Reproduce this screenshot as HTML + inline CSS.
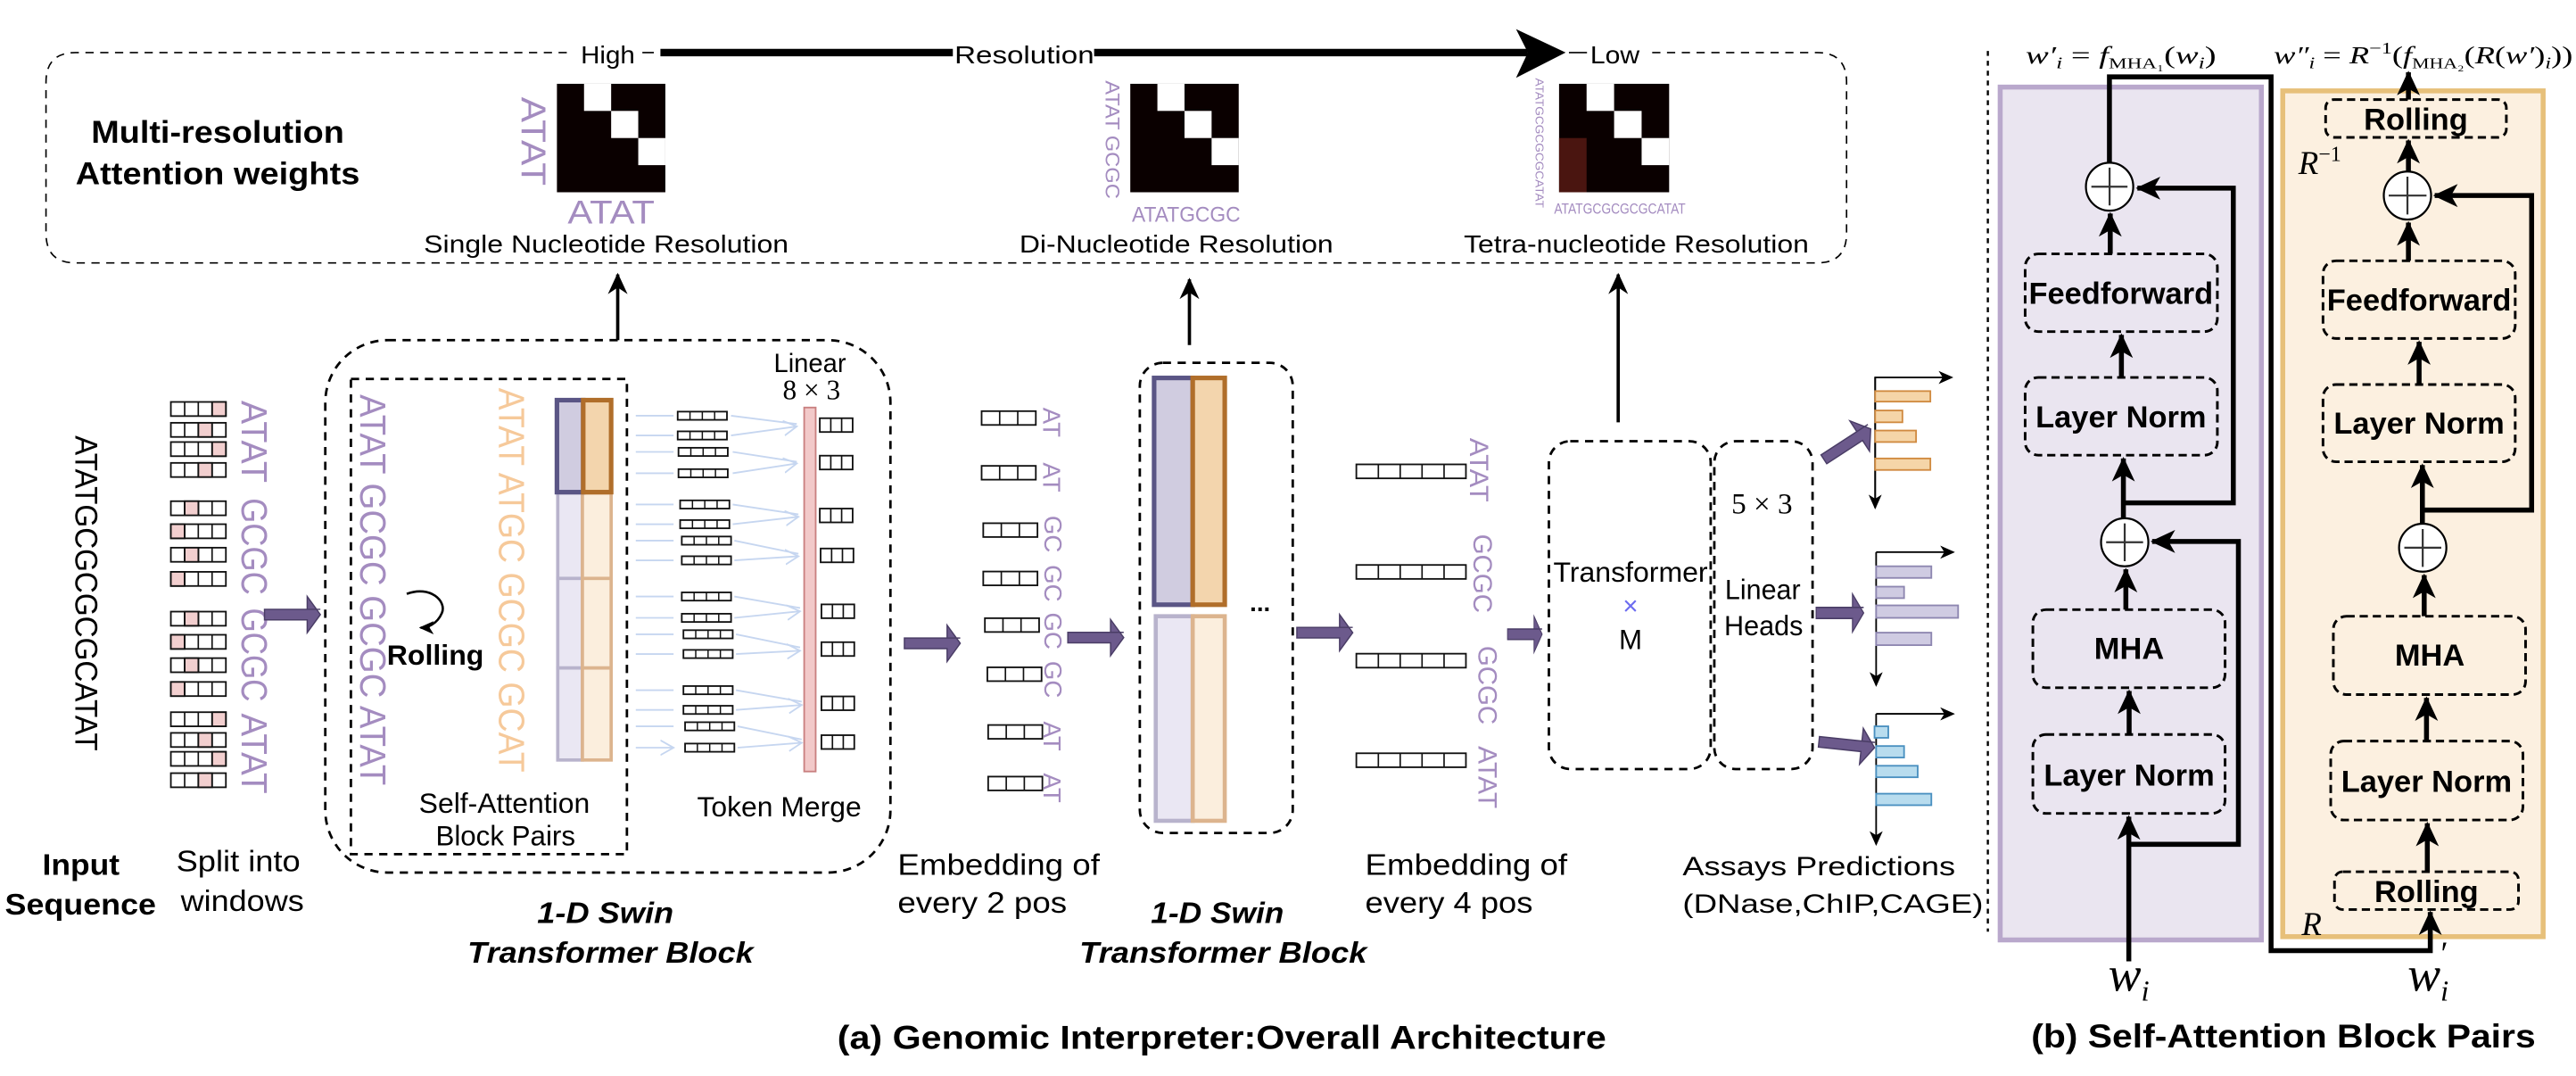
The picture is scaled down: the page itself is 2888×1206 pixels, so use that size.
<!DOCTYPE html>
<html><head><meta charset="utf-8"><style>
html,body{margin:0;padding:0;background:#fff}
svg{display:block}
.c{font-family:"Liberation Sans Narrow","Liberation Sans",sans-serif}
.s{font-family:"Liberation Sans",sans-serif}
.m{font-family:"Liberation Serif",serif}
.bb{font-family:"Liberation Sans",sans-serif;font-weight:bold;font-size:18.7px}
.pu{fill:#a48cc0}
.or{fill:#f6c99a}
</style></head><body>
<svg width="2888" height="1206" viewBox="0 0 1568 654.8" preserveAspectRatio="none" xmlns="http://www.w3.org/2000/svg">
<defs>
<marker id="ah" markerUnits="userSpaceOnUse" markerWidth="14" markerHeight="14" refX="12" refY="7" orient="auto"><path d="M0,1 L13,7 L0,13 L4,7 z" fill="#000"/></marker>
<marker id="ab" markerUnits="userSpaceOnUse" markerWidth="16" markerHeight="16" refX="14" refY="8" orient="auto"><path d="M0,1 L15,8 L0,15 L4,8 z" fill="#000"/></marker>
<marker id="as" markerUnits="userSpaceOnUse" markerWidth="10" markerHeight="10" refX="8" refY="5" orient="auto"><path d="M0,1 L9,5 L0,9 L2.5,5 z" fill="#000"/></marker>
<marker id="lb" markerUnits="userSpaceOnUse" markerWidth="10" markerHeight="10" refX="8" refY="5" orient="auto"><path d="M0,0.5 L8,5 L0,9.5" fill="none" stroke="#c6d6f0" stroke-width="1"/></marker>
<path id="fa" d="M0,-3.2 L-8,-3.2 L-8,-11 L0,0 L-8,11 L-8,3.2 L-34,3.2 L-34,-3.2 z"/>
</defs>

<!-- ===== Top multi-resolution box ===== -->
<path d="M345,32 H46 Q28,32 28,50 V142 Q28,160 46,160 H1106 Q1124,160 1124,142 V50 Q1124,32 1106,32 H1003" fill="none" stroke="#000" stroke-width="0.9" stroke-dasharray="5,4"/>
<path d="M391,32 H398" stroke="#000" stroke-width="0.9"/>
<text x="370" y="38.5" class="c" font-size="15" text-anchor="middle" textLength="33" lengthAdjust="spacingAndGlyphs">High</text>
<line x1="402" y1="32" x2="580" y2="32" stroke="#000" stroke-width="4.5"/>
<line x1="666" y1="32" x2="930" y2="32" stroke="#000" stroke-width="4.5"/>
<path d="M922.8,17.7 L953,32 L922.8,47.4 L930,32 z" fill="#000"/>
<text x="581" y="38.5" class="c" font-size="15" textLength="85" lengthAdjust="spacingAndGlyphs">Resolution</text>
<line x1="955" y1="32" x2="966" y2="32" stroke="#000" stroke-width="0.9"/>
<text x="968" y="38.5" class="c" font-size="15" textLength="30" lengthAdjust="spacingAndGlyphs">Low</text>

<text x="55.5" y="87" class="c" font-size="19" font-weight="bold" textLength="154" lengthAdjust="spacingAndGlyphs">Multi-resolution</text>
<text x="46" y="112" class="c" font-size="19" font-weight="bold" textLength="173" lengthAdjust="spacingAndGlyphs">Attention weights</text>

<!-- matrices -->
<g>
<rect x="339" y="51" width="66" height="66" fill="#0a0000"/>
<rect x="355.5" y="51" width="16.5" height="16.5" fill="#fff"/>
<rect x="372" y="67.5" width="16.5" height="16.5" fill="#fff"/>
<rect x="388.5" y="84" width="16.5" height="16.5" fill="#fff"/>
<text transform="translate(324,86) rotate(90)" class="s pu" font-size="21" text-anchor="middle" dominant-baseline="central" textLength="54" lengthAdjust="spacingAndGlyphs">ATAT</text>
<text x="372" y="136" class="c pu" font-size="20" text-anchor="middle" textLength="53" lengthAdjust="spacingAndGlyphs">ATAT</text>
<text x="369" y="153.7" class="c" font-size="15" text-anchor="middle" textLength="222" lengthAdjust="spacingAndGlyphs">Single Nucleotide Resolution</text>
</g>
<g>
<rect x="688" y="51" width="66" height="66" fill="#0a0000"/>
<rect x="704.5" y="51" width="16.5" height="16.5" fill="#fff"/>
<rect x="721" y="67.5" width="16.5" height="16.5" fill="#fff"/>
<rect x="737.5" y="84" width="16.5" height="16.5" fill="#fff"/>
<text transform="translate(677,85) rotate(90)" class="s pu" font-size="12" text-anchor="middle" dominant-baseline="central" textLength="72" lengthAdjust="spacingAndGlyphs">ATAT GCGC</text>
<text x="722" y="135" class="c pu" font-size="13" text-anchor="middle" textLength="66" lengthAdjust="spacingAndGlyphs">ATATGCGC</text>
<text x="716" y="153.7" class="c" font-size="15" text-anchor="middle" textLength="191" lengthAdjust="spacingAndGlyphs">Di-Nucleotide Resolution</text>
</g>
<g>
<rect x="949" y="51" width="67" height="66" fill="#0a0000"/>
<rect x="949" y="84" width="16.75" height="33" fill="#4a1510"/>
<rect x="965.75" y="51" width="16.75" height="16.5" fill="#fff"/>
<rect x="982.5" y="67.5" width="16.75" height="16.5" fill="#fff"/>
<rect x="999.25" y="84" width="16.75" height="16.5" fill="#fff"/>
<text transform="translate(937,87) rotate(90)" class="s pu" font-size="7" text-anchor="middle" dominant-baseline="central" textLength="79" lengthAdjust="spacingAndGlyphs">ATATGCGCGCGCATAT</text>
<text x="986" y="130" class="c pu" font-size="9" text-anchor="middle" textLength="80" lengthAdjust="spacingAndGlyphs">ATATGCGCGCGCATAT</text>
<text x="891" y="153.7" class="c" font-size="15" textLength="210" lengthAdjust="spacingAndGlyphs">Tetra-nucleotide Resolution</text>
</g>

<!-- up arrows -->
<line x1="376" y1="207" x2="376" y2="167" stroke="#000" stroke-width="2" marker-end="url(#ah)"/>
<line x1="724" y1="210" x2="724" y2="170" stroke="#000" stroke-width="2" marker-end="url(#ah)"/>
<line x1="985" y1="257" x2="985" y2="167" stroke="#000" stroke-width="2" marker-end="url(#ah)"/>

<!-- ===== Input ===== -->
<text transform="translate(52,361) rotate(90)" class="s" font-size="19" text-anchor="middle" dominant-baseline="central" textLength="192" lengthAdjust="spacingAndGlyphs">ATATGCGCGCGCATAT</text>

<g id="win" stroke="#000" stroke-width="1" fill="#fff">
<!-- rows generated manually -->
</g>
<g stroke="#111" stroke-width="1">
<!-- group1 -->
<rect x="104" y="244.6" width="33.5" height="8.6" fill="#fff"/><rect x="129.1" y="244.6" width="8.4" height="8.6" fill="#f2cfcf"/>
<rect x="104" y="257.3" width="33.5" height="8.6" fill="#fff"/><rect x="120.7" y="257.3" width="8.4" height="8.6" fill="#f2cfcf"/>
<rect x="104" y="269" width="33.5" height="8.6" fill="#fff"/><rect x="129.1" y="269" width="8.4" height="8.6" fill="#f2cfcf"/>
<rect x="104" y="281.7" width="33.5" height="8.6" fill="#fff"/><rect x="120.7" y="281.7" width="8.4" height="8.6" fill="#f2cfcf"/>
<!-- group2 -->
<rect x="104" y="305" width="33.5" height="8.6" fill="#fff"/><rect x="112.4" y="305" width="8.4" height="8.6" fill="#f2cfcf"/>
<rect x="104" y="319" width="33.5" height="8.6" fill="#fff"/><rect x="104" y="319" width="8.4" height="8.6" fill="#f2cfcf"/>
<rect x="104" y="333.3" width="33.5" height="8.6" fill="#fff"/><rect x="112.4" y="333.3" width="8.4" height="8.6" fill="#f2cfcf"/>
<rect x="104" y="348" width="33.5" height="8.6" fill="#fff"/><rect x="104" y="348" width="8.4" height="8.6" fill="#f2cfcf"/>
<!-- group3 -->
<rect x="104" y="372.2" width="33.5" height="8.6" fill="#fff"/><rect x="112.4" y="372.2" width="8.4" height="8.6" fill="#f2cfcf"/>
<rect x="104" y="386.3" width="33.5" height="8.6" fill="#fff"/><rect x="104" y="386.3" width="8.4" height="8.6" fill="#f2cfcf"/>
<rect x="104" y="400.5" width="33.5" height="8.6" fill="#fff"/><rect x="112.4" y="400.5" width="8.4" height="8.6" fill="#f2cfcf"/>
<rect x="104" y="415" width="33.5" height="8.6" fill="#fff"/><rect x="104" y="415" width="8.4" height="8.6" fill="#f2cfcf"/>
<!-- group4 -->
<rect x="104" y="433.4" width="33.5" height="8.6" fill="#fff"/><rect x="129.1" y="433.4" width="8.4" height="8.6" fill="#f2cfcf"/>
<rect x="104" y="446" width="33.5" height="8.6" fill="#fff"/><rect x="120.7" y="446" width="8.4" height="8.6" fill="#f2cfcf"/>
<rect x="104" y="457.5" width="33.5" height="8.6" fill="#fff"/><rect x="129.1" y="457.5" width="8.4" height="8.6" fill="#f2cfcf"/>
<rect x="104" y="470.5" width="33.5" height="8.6" fill="#fff"/><rect x="120.7" y="470.5" width="8.4" height="8.6" fill="#f2cfcf"/>
</g>
<!-- cell dividers for windows -->
<g stroke="#111" stroke-width="0.9">
<path d="M112.4,244.6v8.6M120.7,244.6v8.6M129.1,244.6v8.6 M112.4,257.3v8.6M120.7,257.3v8.6M129.1,257.3v8.6 M112.4,269v8.6M120.7,269v8.6M129.1,269v8.6 M112.4,281.7v8.6M120.7,281.7v8.6M129.1,281.7v8.6
M112.4,305v8.6M120.7,305v8.6M129.1,305v8.6 M112.4,319v8.6M120.7,319v8.6M129.1,319v8.6 M112.4,333.3v8.6M120.7,333.3v8.6M129.1,333.3v8.6 M112.4,348v8.6M120.7,348v8.6M129.1,348v8.6
M112.4,372.2v8.6M120.7,372.2v8.6M129.1,372.2v8.6 M112.4,386.3v8.6M120.7,386.3v8.6M129.1,386.3v8.6 M112.4,400.5v8.6M120.7,400.5v8.6M129.1,400.5v8.6 M112.4,415v8.6M120.7,415v8.6M129.1,415v8.6
M112.4,433.4v8.6M120.7,433.4v8.6M129.1,433.4v8.6 M112.4,446v8.6M120.7,446v8.6M129.1,446v8.6 M112.4,457.5v8.6M120.7,457.5v8.6M129.1,457.5v8.6 M112.4,470.5v8.6M120.7,470.5v8.6M129.1,470.5v8.6"/>
</g>
<g class="s pu" font-size="22" text-anchor="middle" dominant-baseline="central">
<text transform="translate(154.7,268.7) rotate(90)" textLength="50" lengthAdjust="spacingAndGlyphs">ATAT</text>
<text transform="translate(154.7,332.5) rotate(90)" textLength="59" lengthAdjust="spacingAndGlyphs">GCGC</text>
<text transform="translate(154.7,398.5) rotate(90)" textLength="57" lengthAdjust="spacingAndGlyphs">GCGC</text>
<text transform="translate(154.7,458.5) rotate(90)" textLength="49" lengthAdjust="spacingAndGlyphs">ATAT</text>
</g>

<!-- fat purple arrows -->
<g fill="#6c5a8c" stroke="#4a3d66" stroke-width="0.8">
<use href="#fa" transform="translate(195,374)"/>
<use href="#fa" transform="translate(584.5,391.5)"/>
<use href="#fa" transform="translate(684,388)"/>
<use href="#fa" transform="translate(823.4,385)"/>
<use href="#fa" transform="translate(938.7,386) scale(0.62,1)"/>
<use href="#fa" transform="translate(1138.7,261) rotate(-33)"/>
<use href="#fa" transform="translate(1134.4,373) scale(0.85,1.05)"/>
<use href="#fa" transform="translate(1141,455) rotate(6)"/>
</g>

<!-- ===== Swin block 1 ===== -->
<rect x="198" y="207" width="344" height="324" rx="38" ry="38" fill="none" stroke="#000" stroke-width="1.5" stroke-dasharray="5,4"/>
<rect x="213.6" y="230.6" width="168" height="289.2" fill="none" stroke="#000" stroke-width="1.5" stroke-dasharray="5,4"/>
<text transform="translate(227,359) rotate(90)" class="s pu" font-size="22" text-anchor="middle" dominant-baseline="central" textLength="238" lengthAdjust="spacingAndGlyphs">ATAT GCGC GCGC ATAT</text>
<text transform="translate(311.5,353) rotate(90)" class="s or" font-size="22" text-anchor="middle" dominant-baseline="central" textLength="234" lengthAdjust="spacingAndGlyphs">ATAT ATGC GCGC GCAT</text>
<path d="M247.6,361.4 C262,356 272,366 269,373 C266,380 260,382 256,382" fill="none" stroke="#000" stroke-width="1.4" marker-end="url(#as)"/>
<text x="235.5" y="404.4" class="c" font-size="17" font-weight="bold" textLength="59" lengthAdjust="spacingAndGlyphs">Rolling</text>
<!-- columns -->
<g>
<rect x="339.5" y="300" width="15" height="52" fill="#eae7f3" stroke="#b8b3cc" stroke-width="2"/>
<rect x="339.5" y="352" width="15" height="54.5" fill="#eae7f3" stroke="#b8b3cc" stroke-width="2"/>
<rect x="339.5" y="406.5" width="15" height="56" fill="#eae7f3" stroke="#b8b3cc" stroke-width="2"/>
<rect x="354.5" y="300" width="17.5" height="52" fill="#fbeedd" stroke="#dcb48e" stroke-width="2"/>
<rect x="354.5" y="352" width="17.5" height="54.5" fill="#fbeedd" stroke="#dcb48e" stroke-width="2"/>
<rect x="354.5" y="406.5" width="17.5" height="56" fill="#fbeedd" stroke="#dcb48e" stroke-width="2"/>
<rect x="339" y="243.5" width="16" height="56" fill="#d0cce0" stroke="#5a5585" stroke-width="2.8"/>
<rect x="355" y="243.5" width="17" height="56" fill="#f3d5ad" stroke="#b06e2a" stroke-width="2.8"/>
</g>
<!-- token merge -->
<g stroke="#c6d6f0" stroke-width="1" fill="none" marker-end="url(#lb)">
<path d="M387,253H410M387,265H410M387,275H410M387,288H410M387,307H410M387,319H410M387,329H410M387,341H410M387,363H410M387,376H410M387,386H410M387,398H410M387,420H410M387,432H410M387,442H410M387,455H410"/>
</g>
<g stroke="#c6d6f0" stroke-width="1" fill="none" marker-end="url(#lb)">
<path d="M445,253L485,258M445,265L485,259.5"/>
<path d="M446,275L485,281M446,288L485,282"/>
<path d="M446,307L486,313M446,319L486,314.5"/>
<path d="M447,329L486,337M447,341L486,338.5"/>
<path d="M447,363L487,370M447,376L487,372"/>
<path d="M448,386L487,394M448,398L487,396"/>
<path d="M448,420L488,427M448,432L488,429"/>
<path d="M449,442L488,450M449,455L488,452"/>
</g>
<g fill="#fff" stroke="#111" stroke-width="1">
<rect x="412.5" y="250.5" width="30" height="5"/><rect x="412.5" y="262.5" width="30" height="5"/><rect x="413" y="272.5" width="30" height="5"/><rect x="413" y="285.5" width="30" height="5"/>
<rect x="414" y="304.5" width="30" height="5"/><rect x="414" y="316.5" width="30" height="5"/><rect x="415" y="326.5" width="30" height="5"/><rect x="415" y="338.5" width="30" height="5"/>
<rect x="415" y="360.5" width="30" height="5"/><rect x="415" y="373.5" width="30" height="5"/><rect x="416" y="383.5" width="30" height="5"/><rect x="416" y="395.5" width="30" height="5"/>
<rect x="416" y="417.5" width="30" height="5"/><rect x="416" y="429.5" width="30" height="5"/><rect x="417" y="439.5" width="30" height="5"/><rect x="417" y="452.5" width="30" height="5"/>
</g>
<g stroke="#111" stroke-width="0.8">
<path d="M420,250.5v5M427.5,250.5v5M435,250.5v5 M420,262.5v5M427.5,262.5v5M435,262.5v5 M420.5,272.5v5M428,272.5v5M435.5,272.5v5 M420.5,285.5v5M428,285.5v5M435.5,285.5v5
M421.5,304.5v5M429,304.5v5M436.5,304.5v5 M421.5,316.5v5M429,316.5v5M436.5,316.5v5 M422.5,326.5v5M430,326.5v5M437.5,326.5v5 M422.5,338.5v5M430,338.5v5M437.5,338.5v5
M422.5,360.5v5M430,360.5v5M437.5,360.5v5 M422.5,373.5v5M430,373.5v5M437.5,373.5v5 M423.5,383.5v5M431,383.5v5M438.5,383.5v5 M423.5,395.5v5M431,395.5v5M438.5,395.5v5
M423.5,417.5v5M431,417.5v5M438.5,417.5v5 M423.5,429.5v5M431,429.5v5M438.5,429.5v5 M424.5,439.5v5M432,439.5v5M439.5,439.5v5 M424.5,452.5v5M432,452.5v5M439.5,452.5v5"/>
</g>
<rect x="489.5" y="248" width="7" height="221.5" fill="#f2c9c9" stroke="#c98080" stroke-width="1"/>
<text x="493" y="226.5" class="c" font-size="16" text-anchor="middle" textLength="44" lengthAdjust="spacingAndGlyphs">Linear</text>
<text x="494" y="243" class="m" font-size="17" text-anchor="middle">8 × 3</text>
<g fill="#fff" stroke="#111" stroke-width="1">
<rect x="499" y="254.5" width="20" height="8.4"/><rect x="499" y="277.3" width="20" height="8.4"/><rect x="499" y="309.5" width="20" height="8.4"/><rect x="499.5" y="333.8" width="20" height="8.4"/>
<rect x="500" y="367.8" width="20" height="8.4"/><rect x="500" y="390.8" width="20" height="8.4"/><rect x="500" y="423.8" width="20" height="8.4"/><rect x="500" y="447.4" width="20" height="8.4"/>
</g>
<g stroke="#111" stroke-width="0.9">
<path d="M505.7,254.5v8.4M512.3,254.5v8.4 M505.7,277.3v8.4M512.3,277.3v8.4 M505.7,309.5v8.4M512.3,309.5v8.4 M506.2,333.8v8.4M512.8,333.8v8.4 M506.7,367.8v8.4M513.3,367.8v8.4 M506.7,390.8v8.4M513.3,390.8v8.4 M506.7,423.8v8.4M513.3,423.8v8.4 M506.7,447.4v8.4M513.3,447.4v8.4"/>
</g>
<text x="307" y="494.6" class="c" font-size="17" text-anchor="middle" textLength="104" lengthAdjust="spacingAndGlyphs">Self-Attention</text>
<text x="307.7" y="514.5" class="c" font-size="17" text-anchor="middle" textLength="85" lengthAdjust="spacingAndGlyphs">Block Pairs</text>
<text x="474.3" y="496.7" class="c" font-size="17" text-anchor="middle" textLength="100" lengthAdjust="spacingAndGlyphs">Token Merge</text>

<!-- bottom labels -->
<text x="49.3" y="532.4" class="c" font-size="18" font-weight="bold" text-anchor="middle" textLength="47" lengthAdjust="spacingAndGlyphs">Input</text>
<text x="49" y="556.5" class="c" font-size="18" font-weight="bold" text-anchor="middle" textLength="92" lengthAdjust="spacingAndGlyphs">Sequence</text>
<text x="107.3" y="530.3" class="c" font-size="18" textLength="75.5" lengthAdjust="spacingAndGlyphs">Split into</text>
<text x="110" y="554.4" class="c" font-size="18" textLength="75" lengthAdjust="spacingAndGlyphs">windows</text>
<text x="327" y="561.7" class="c" font-size="18" font-weight="bold" font-style="italic" textLength="83" lengthAdjust="spacingAndGlyphs">1-D Swin</text>
<text x="284.6" y="585.9" class="c" font-size="18" font-weight="bold" font-style="italic" textLength="174" lengthAdjust="spacingAndGlyphs">Transformer Block</text>
<text x="546.4" y="532.4" class="c" font-size="18" textLength="123" lengthAdjust="spacingAndGlyphs">Embedding of</text>
<text x="546.4" y="555.5" class="c" font-size="18" textLength="103" lengthAdjust="spacingAndGlyphs">every 2 pos</text>
<text x="700.5" y="561.7" class="c" font-size="18" font-weight="bold" font-style="italic" textLength="81" lengthAdjust="spacingAndGlyphs">1-D Swin</text>
<text x="657" y="585.9" class="c" font-size="18" font-weight="bold" font-style="italic" textLength="175" lengthAdjust="spacingAndGlyphs">Transformer Block</text>
<text x="831" y="532.4" class="c" font-size="18" textLength="123" lengthAdjust="spacingAndGlyphs">Embedding of</text>
<text x="831" y="555.5" class="c" font-size="18" textLength="102" lengthAdjust="spacingAndGlyphs">every 4 pos</text>
<text x="1024.2" y="532.6" class="s" font-size="16" textLength="166" lengthAdjust="spacingAndGlyphs">Assays Predictions</text>
<text x="1024.2" y="555.5" class="s" font-size="16" textLength="183" lengthAdjust="spacingAndGlyphs">(DNase,ChIP,CAGE)</text>
<text x="509.7" y="638.3" class="c" font-size="20" font-weight="bold" textLength="468" lengthAdjust="spacingAndGlyphs">(a) Genomic Interpreter:Overall Architecture</text>

<!-- embedding 2 -->
<g fill="#fff" stroke="#111" stroke-width="1">
<rect x="597.5" y="250.2" width="33" height="8.4"/><rect x="597.5" y="283.5" width="33" height="8.4"/><rect x="598.5" y="318.4" width="33" height="8.4"/><rect x="598.5" y="347.8" width="33" height="8.4"/>
<rect x="599.5" y="376.2" width="33" height="8.4"/><rect x="601" y="406.1" width="33" height="8.4"/><rect x="601.5" y="441.2" width="33" height="8.4"/><rect x="601.5" y="472.6" width="33" height="8.4"/>
</g>
<g stroke="#111" stroke-width="0.9">
<path d="M608.5,250.2v8.4M619.5,250.2v8.4 M608.5,283.5v8.4M619.5,283.5v8.4 M609.5,318.4v8.4M620.5,318.4v8.4 M609.5,347.8v8.4M620.5,347.8v8.4 M610.5,376.2v8.4M621.5,376.2v8.4 M612,406.1v8.4M623,406.1v8.4 M612.5,441.2v8.4M623.5,441.2v8.4 M612.5,472.6v8.4M623.5,472.6v8.4"/>
</g>
<g class="s pu" font-size="15" text-anchor="middle" dominant-baseline="central">
<text transform="translate(640,257) rotate(90)">AT</text>
<text transform="translate(640,290.5) rotate(90)">AT</text>
<text transform="translate(641,325) rotate(90)">GC</text>
<text transform="translate(641,355) rotate(90)">GC</text>
<text transform="translate(641,384) rotate(90)">GC</text>
<text transform="translate(641,413.5) rotate(90)">GC</text>
<text transform="translate(640.5,448) rotate(90)">AT</text>
<text transform="translate(640.5,479.5) rotate(90)">AT</text>
</g>

<!-- Swin block 2 -->
<rect x="693.8" y="220.8" width="93.1" height="286.1" rx="14" ry="14" fill="none" stroke="#000" stroke-width="1.5" stroke-dasharray="5,4"/>
<rect x="703.5" y="375" width="22.5" height="124.5" fill="#eae7f3" stroke="#b8b3cc" stroke-width="2.5"/>
<rect x="726" y="375" width="19.5" height="124.5" fill="#fbeedd" stroke="#dcb48e" stroke-width="2.5"/>
<rect x="702.5" y="230" width="23.5" height="138" fill="#d0cce0" stroke="#5a5585" stroke-width="2.8"/>
<rect x="726" y="230" width="19.5" height="138" fill="#f3d5ad" stroke="#b06e2a" stroke-width="2.8"/>
<text x="767" y="372" class="s" font-size="15" font-weight="bold" text-anchor="middle">...</text>

<!-- embedding 4 -->
<g fill="#fff" stroke="#111" stroke-width="1">
<rect x="825.6" y="282.6" width="66.7" height="8.5"/><rect x="825.6" y="343.8" width="66.7" height="8.5"/><rect x="825.6" y="397.8" width="66.7" height="8.5"/><rect x="825.6" y="458.4" width="66.7" height="8.5"/>
</g>
<g stroke="#111" stroke-width="0.9">
<path d="M839,282.6v8.5M852.3,282.6v8.5M865.6,282.6v8.5M879,282.6v8.5 M839,343.8v8.5M852.3,343.8v8.5M865.6,343.8v8.5M879,343.8v8.5 M839,397.8v8.5M852.3,397.8v8.5M865.6,397.8v8.5M879,397.8v8.5 M839,458.4v8.5M852.3,458.4v8.5M865.6,458.4v8.5M879,458.4v8.5"/>
</g>
<g class="s pu" font-size="16" text-anchor="middle" dominant-baseline="central">
<text transform="translate(900,286) rotate(90)" textLength="39" lengthAdjust="spacingAndGlyphs">ATAT</text>
<text transform="translate(902,349) rotate(90)" textLength="48" lengthAdjust="spacingAndGlyphs">GCGC</text>
<text transform="translate(905,417) rotate(90)" textLength="48" lengthAdjust="spacingAndGlyphs">GCGC</text>
<text transform="translate(905,473) rotate(90)" textLength="38" lengthAdjust="spacingAndGlyphs">ATAT</text>
</g>

<!-- Transformer + Linear heads -->
<rect x="942.8" y="268.5" width="98.5" height="199.5" rx="13" ry="13" fill="none" stroke="#000" stroke-width="1.5" stroke-dasharray="5,4"/>
<rect x="1043.5" y="268.5" width="59.8" height="199.5" rx="13" ry="13" fill="none" stroke="#000" stroke-width="1.5" stroke-dasharray="5,4"/>
<text x="992.5" y="354" class="s" font-size="17" text-anchor="middle" textLength="94" lengthAdjust="spacingAndGlyphs">Transformer</text>
<text x="992.5" y="374" class="s" font-size="16" fill="#6c6cf0" text-anchor="middle">×</text>
<text x="992.5" y="395" class="s" font-size="17" text-anchor="middle">M</text>
<text x="1072.5" y="312.5" class="m" font-size="18" text-anchor="middle">5 × 3</text>
<text x="1050" y="364.5" class="s" font-size="17" textLength="46" lengthAdjust="spacingAndGlyphs">Linear</text>
<text x="1049.5" y="386.5" class="s" font-size="17" textLength="48" lengthAdjust="spacingAndGlyphs">Heads</text>

<!-- charts -->
<g stroke="#000" stroke-width="1" fill="none">
<path d="M1141.4,309 V229.7 H1188" marker-end="url(#as)"/>
<path d="M1141.4,229.7 V309" marker-end="url(#as)"/>
<path d="M1142,336 H1189" marker-end="url(#as)"/>
<path d="M1142,336 V417" marker-end="url(#as)"/>
<path d="M1142,434.4 H1189" marker-end="url(#as)"/>
<path d="M1142,434.4 V513.8" marker-end="url(#as)"/>
</g>
<g fill="#f5d5a8" stroke="#d08a40" stroke-width="1">
<rect x="1141.4" y="238" width="33.6" height="6.4"/><rect x="1141.4" y="249.8" width="16.6" height="7.2"/><rect x="1141.4" y="262" width="24.9" height="7"/><rect x="1141.4" y="279" width="33.6" height="7"/>
</g>
<g fill="#cfcbe2" stroke="#8d86b0" stroke-width="1">
<rect x="1142" y="344.6" width="33.6" height="7.1"/><rect x="1142" y="357" width="17" height="7"/><rect x="1142" y="368.4" width="49.9" height="7.6"/><rect x="1142" y="385" width="33.6" height="7.6"/>
</g>
<g fill="#b8dcee" stroke="#4a90c0" stroke-width="1">
<rect x="1141" y="442" width="8.4" height="7"/><rect x="1142" y="454" width="17" height="7"/><rect x="1142" y="466" width="25.3" height="7"/><rect x="1142" y="483" width="33.6" height="7"/>
</g>

<!-- divider -->
<line x1="1210" y1="31" x2="1210" y2="567" stroke="#000" stroke-width="1.3" stroke-dasharray="3,3"/>

<!-- ===== Panel b ===== -->
<rect x="1217.5" y="53" width="159" height="519" fill="#eae5f0" stroke="#b9a8cc" stroke-width="3"/>
<rect x="1389.5" y="55.3" width="158.5" height="514.7" fill="#fcf0e0" stroke="#e7c07a" stroke-width="3"/>

<text x="1233" y="38.5" class="m" font-size="15" font-style="italic" textLength="116" lengthAdjust="spacingAndGlyphs">w′<tspan font-size="10" dy="3">i</tspan><tspan dy="-3" font-style="normal"> = </tspan>f<tspan font-size="9" dy="3" font-style="normal">MHA₁</tspan><tspan dy="-3" font-style="normal">(</tspan>w<tspan font-size="10" dy="3">i</tspan><tspan dy="-3" font-style="normal">)</tspan></text>
<text x="1384" y="38.5" class="m" font-size="15" font-style="italic" textLength="182" lengthAdjust="spacingAndGlyphs">w″<tspan font-size="10" dy="3">i</tspan><tspan dy="-3" font-style="normal"> = </tspan>R<tspan font-size="10" dy="-6" font-style="normal">−1</tspan><tspan dy="6" font-style="normal">(</tspan>f<tspan font-size="9" dy="3" font-style="normal">MHA₂</tspan><tspan dy="-3" font-style="normal">(</tspan>R<tspan font-style="normal">(</tspan>w′<tspan font-style="normal">)</tspan><tspan font-size="10" dy="3">i</tspan><tspan dy="-3" font-style="normal">))</tspan></text>

<g fill="none" stroke="#000" stroke-width="1.6" stroke-dasharray="5,3">
<rect x="1232.7" y="154.5" width="117" height="47.3" rx="8"/>
<rect x="1232.7" y="229.7" width="117" height="47.3" rx="8"/>
<rect x="1237.4" y="371" width="117" height="47.5" rx="8"/>
<rect x="1237.4" y="447" width="117" height="48" rx="8"/>
<rect x="1415.6" y="60.6" width="110" height="23" rx="5"/>
<rect x="1414" y="158.7" width="117" height="47.3" rx="8"/>
<rect x="1414" y="234" width="117" height="47" rx="8"/>
<rect x="1420.3" y="375" width="117" height="47.7" rx="8"/>
<rect x="1418.7" y="451" width="117" height="48" rx="8"/>
<rect x="1421" y="530.5" width="112" height="23" rx="5"/>
</g>
<g class="bb" text-anchor="middle">
<text x="1291" y="185">Feedforward</text>
<text x="1291" y="260">Layer Norm</text>
<text x="1296" y="401">MHA</text>
<text x="1296" y="478">Layer Norm</text>
<text x="1470.5" y="79">Rolling</text>
<text x="1472.5" y="189">Feedforward</text>
<text x="1472.5" y="264">Layer Norm</text>
<text x="1479" y="405">MHA</text>
<text x="1477" y="482">Layer Norm</text>
<text x="1477" y="549">Rolling</text>
</g>
<text x="1399" y="106" class="m" font-size="20" font-style="italic">R<tspan font-size="13" dy="-8" font-style="normal">−1</tspan></text>
<text x="1401" y="569" class="m" font-size="20" font-style="italic">R</text>

<!-- connectors b -->
<g fill="none" stroke="#000" stroke-width="3">
<path d="M1284,99 V46.8 H1382.4 V578.5 H1479.3 V555" marker-end="url(#ab)"/>
<path d="M1295.8,585 V497" marker-end="url(#ab)"/>
<path d="M1295.8,513.8 H1362.5 V329.5 H1310" marker-end="url(#ab)"/>
<path d="M1296,447 V420.5" marker-end="url(#ab)"/>
<path d="M1294,371 V346.5" marker-end="url(#ab)"/>
<path d="M1292.5,315.5 V279" marker-end="url(#ab)"/>
<path d="M1292.5,306 H1359.4 V114.5 H1301" marker-end="url(#ab)"/>
<path d="M1291.3,229.7 V203.8" marker-end="url(#ab)"/>
<path d="M1284.5,154.5 V130" marker-end="url(#ab)"/>
<path d="M1477.5,530.5 V501" marker-end="url(#ab)"/>
<path d="M1477,451 V424.7" marker-end="url(#ab)"/>
<path d="M1475.6,375 V350" marker-end="url(#ab)"/>
<path d="M1474.5,318.8 V283" marker-end="url(#ab)"/>
<path d="M1474.5,310.4 H1541 V119 H1482" marker-end="url(#ab)"/>
<path d="M1472.5,234 V208" marker-end="url(#ab)"/>
<path d="M1466,158.7 V135.5" marker-end="url(#ab)"/>
<path d="M1466,104.5 V85.5" marker-end="url(#ab)"/>
<path d="M1466,60.6 V44" marker-end="url(#ab)"/>
</g>
<g fill="#fff" stroke="#000" stroke-width="1.2">
<ellipse cx="1284.1" cy="113.6" rx="14.4" ry="14.6"/>
<ellipse cx="1293.3" cy="330" rx="14.4" ry="14.6"/>
<ellipse cx="1465.4" cy="119" rx="14.4" ry="14.6"/>
<ellipse cx="1474.7" cy="333.3" rx="14.4" ry="14.6"/>
</g>
<g stroke="#333" stroke-width="1.2">
<path d="M1273,113.6H1295M1284.1,102v23"/>
<path d="M1282,330H1304.5M1293.3,318.5v23"/>
<path d="M1454,119H1477M1465.4,107.5v23"/>
<path d="M1463.5,333.3H1486M1474.7,322v23"/>
</g>
<text x="1295.8" y="603" class="m" font-size="30" font-style="italic" text-anchor="middle">w<tspan font-size="18" dy="6">i</tspan></text>
<text x="1478" y="603" class="m" font-size="30" font-style="italic" text-anchor="middle">w<tspan font-size="18" dy="6">i</tspan><tspan font-size="20" dx="-6" dy="-22">′</tspan></text>
<text x="1236.4" y="637.5" class="s" font-size="20" font-weight="bold" textLength="307" lengthAdjust="spacingAndGlyphs">(b) Self-Attention Block Pairs</text>
</svg>
</body></html>
